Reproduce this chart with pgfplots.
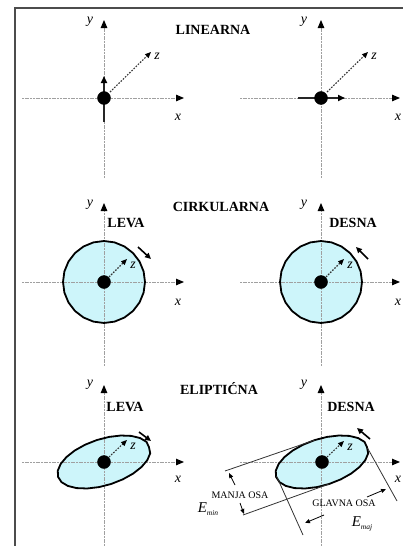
\documentclass[border=0pt]{standalone}
\usepackage{fontspec}
\setmainfont{Liberation Serif}
\usepackage{pgfplots}
\usepackage{pgfplotstable}
\pgfplotsset{compat=1.18}
\usetikzlibrary{arrows.meta}
\definecolor{fillc}{RGB}{205,245,250}
\definecolor{axg}{RGB}{160,160,160}
\tikzset{
 axl/.style={axg,line width=1pt,dash pattern=on 2pt off 0.7pt,-{Triangle[length=8pt,width=6.5pt,color=black]}},
 zarr/.style={black!80,line width=1.1pt,dash pattern=on 1.6pt off 1.4pt,-{Triangle[length=6pt,width=5pt,color=black]}},
 rot/.style={black,line width=1.6pt,-{Triangle[length=6pt,width=5.5pt]}},
 dim/.style={black,line width=0.8pt,-{Triangle[length=5pt,width=4pt]}},
 ttl/.style={font=\fontsize{14}{16}\selectfont\bfseries},
 lab/.style={font=\fontsize{14}{16}\selectfont\itshape},
 sm/.style={font=\fontsize{10}{12}\selectfont},
}
\pgfplotstableread{
x y
145 282
143.60 292.61
139.51 302.5
132.99 310.99
124.5 317.51
114.61 321.60
104 323
93.39 321.60
83.5 317.51
75.01 310.99
68.49 302.5
64.40 292.61
63 282
64.40 271.39
68.49 261.5
75.01 253.01
83.5 246.49
93.39 242.40
104 241
114.61 242.40
124.5 246.49
132.99 253.01
139.51 261.5
143.60 271.39
}\circL
\pgfplotstableread{
x y
362 282
360.60 292.61
356.51 302.5
349.99 310.99
341.5 317.51
331.61 321.60
321 323
310.39 321.60
300.5 317.51
292.01 310.99
285.49 302.5
281.40 292.61
280 282
281.40 271.39
285.49 261.5
292.01 253.01
300.5 246.49
310.39 242.40
321 241
331.61 242.40
341.5 246.49
349.99 253.01
356.51 261.5
360.60 271.39
}\circR
\pgfplotstableread{
x y
148.94 447.08
150.22 453.28
147.35 460.07
141.53 466.99
133.15 473.57
122.79 479.36
111.14 483.97
99.01 487.08
87.21 488.49
76.57 488.09
67.79 485.91
61.48 482.10
58.06 476.92
57.78 470.72
60.65 463.93
66.47 457.01
74.85 450.43
85.21 444.64
96.86 440.03
108.99 436.92
120.79 435.51
131.43 435.91
140.21 438.09
146.52 441.90
}\ellL
\pgfplotstableread{
x y
366.94 447.08
368.22 453.28
365.35 460.07
359.53 466.99
351.15 473.57
340.79 479.36
329.14 483.97
317.01 487.08
305.21 488.49
294.57 488.09
285.79 485.91
279.48 482.10
276.06 476.92
275.78 470.72
278.65 463.93
284.47 457.01
292.85 450.43
303.21 444.64
314.86 440.03
326.99 436.92
338.79 435.51
349.43 435.91
358.21 438.09
364.52 441.90
}\ellR
\begin{document}
\begin{tikzpicture}
\begin{axis}[
 width=403pt,height=546pt,scale only axis,
 xmin=0,xmax=403,ymin=0,ymax=546,y dir=reverse,
 hide axis, clip=false,
]
% fills
\addplot[fill=fillc,draw=none] table {\circL} -- cycle;
\addplot[fill=fillc,draw=none] table {\circR} -- cycle;
\addplot[fill=fillc,draw=none] table {\ellL} -- cycle;
\addplot[fill=fillc,draw=none] table {\ellR} -- cycle;
% frame
\addplot[draw=black!70,line width=1.2pt] coordinates {(15,546) (15,8) (403,8)};
% axes row 1
\addplot[axl] coordinates {(104,178) (104,20)};
\addplot[axl] coordinates {(22,98) (184,98)};
\addplot[axl] coordinates {(321,178) (321,20)};
\addplot[axl] coordinates {(240,98) (400,98)};
% axes row 2
\addplot[axl] coordinates {(104,366) (104,203)};
\addplot[axl] coordinates {(22,282) (184,282)};
\addplot[axl] coordinates {(321,366) (321,203)};
\addplot[axl] coordinates {(240,282) (400,282)};
% axes row 3
\addplot[axl] coordinates {(104,546) (104,385)};
\addplot[axl] coordinates {(22,462) (184,462)};
\addplot[axl] coordinates {(321,546) (321,385)};
\addplot[axl] coordinates {(240,462) (400,462)};
% outlines
\addplot[draw=black,line width=1.8pt] table {\circL} -- cycle;
\addplot[draw=black,line width=1.8pt] table {\circR} -- cycle;
\addplot[draw=black,line width=1.8pt] table {\ellL} -- cycle;
\addplot[draw=black,line width=1.8pt] table {\ellR} -- cycle;
% linear field vectors
\addplot[black!85,line width=1.6pt,-{Triangle[length=7pt,width=6pt,color=black]}] coordinates {(104,122) (104,76)};
\addplot[black!85,line width=1.6pt,-{Triangle[length=7pt,width=6pt,color=black]}] coordinates {(298,98) (345,98)};
% z arrows
\addplot[zarr] coordinates {(110,92) (151,52)};
\addplot[zarr] coordinates {(327,92) (368,52)};
\addplot[zarr] coordinates {(109,277) (127,259)};
\addplot[zarr] coordinates {(326,277) (344,259)};
\addplot[zarr] coordinates {(109,457) (127,440)};
\addplot[zarr] coordinates {(327,457) (344,441)};
% rotation arrows
\addplot[rot] coordinates {(138,247) (151,259)};
\addplot[rot] coordinates {(368,259) (356,247)};
\addplot[rot] coordinates {(139,432) (151,441)};
\addplot[rot] coordinates {(370,439) (357,428)};
% ellipse axis construction lines
\addplot[black!80,line width=0.8pt] coordinates {(225,471) (314.86,440.03)};
\addplot[black!80,line width=0.8pt] coordinates {(243,515) (329.14,483.97)};
\addplot[black!80,line width=0.8pt] coordinates {(276.5,476) (303,535)};
\addplot[black!80,line width=0.8pt] coordinates {(367.5,448) (397,501)};
% dimension arrows
\addplot[dim] coordinates {(235,485) (229,473)};
\addplot[dim] coordinates {(240,503) (244,514)};
\addplot[dim] coordinates {(367,497) (386,489)};
\addplot[dim] coordinates {(324,515) (305,523)};
% centre dots
\addplot[only marks,mark=*,mark size=6.5pt,black] coordinates {(104,98) (321,98) (104,282) (321,282) (104,462) (322,462)};
% texts
\node[ttl] at (axis cs:213,30) {LINEARNA};
\node[ttl] at (axis cs:221,207) {CIRKULARNA};
\node[ttl] at (axis cs:219,389) {ELIPTIĆNA};
\node[ttl] at (axis cs:126,223) {LEVA};
\node[ttl] at (axis cs:353,223) {DESNA};
\node[ttl] at (axis cs:125,407) {LEVA};
\node[ttl] at (axis cs:351,407) {DESNA};
\node[lab] at (axis cs:90,22) {y};
\node[lab] at (axis cs:304,22) {y};
\node[lab] at (axis cs:178,117) {x};
\node[lab] at (axis cs:398,117) {x};
\node[lab] at (axis cs:90,205) {y};
\node[lab] at (axis cs:304,205) {y};
\node[lab] at (axis cs:178,302) {x};
\node[lab] at (axis cs:398,302) {x};
\node[lab] at (axis cs:90,385) {y};
\node[lab] at (axis cs:304,385) {y};
\node[lab] at (axis cs:178,479) {x};
\node[lab] at (axis cs:398,479) {x};
\node[lab] at (axis cs:157,56) {z};
\node[lab] at (axis cs:374,56) {z};
\node[lab] at (axis cs:133,265) {z};
\node[lab] at (axis cs:350,265) {z};
\node[lab] at (axis cs:133,446) {z};
\node[lab] at (axis cs:350,447) {z};
\node[sm] at (axis cs:240,495) {MANJA OSA};
\node[sm] at (axis cs:344,503) {GLAVNA OSA};
\node[font=\fontsize{15}{16}\selectfont\itshape] at (axis cs:208,509) {E\raisebox{-0.5ex}{\fontsize{7.5}{8}\selectfont min}};
\node[font=\fontsize{15}{16}\selectfont\itshape] at (axis cs:362,524) {E\raisebox{-0.5ex}{\fontsize{7.5}{8}\selectfont maj}};
\end{axis}
\pgfresetboundingbox
\path (0,0) rectangle (403pt,546pt);
\end{tikzpicture}
\end{document}
